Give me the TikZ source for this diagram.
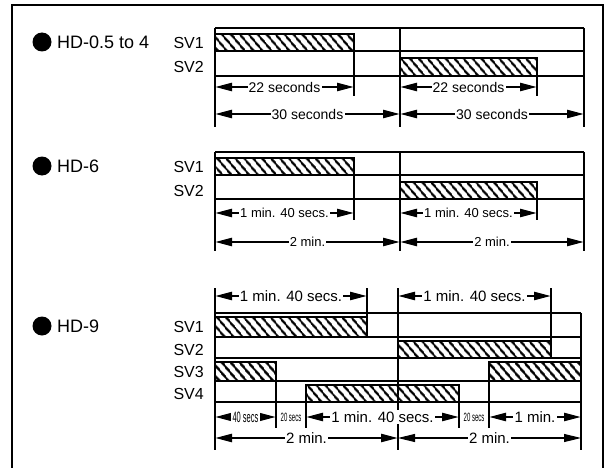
\documentclass[tikz,border=0pt]{standalone}
\usepackage{fontspec}
\setmainfont{Liberation Sans}
\usetikzlibrary{arrows.meta,patterns.meta}
\tikzset{
  frame/.style  ={line width=2pt},
  grid/.style   ={line width=1.4pt},
  hatch/.style  ={draw, line width=1.4pt,
                  pattern={Lines[angle=-50,distance=6.4pt,line width=2.5pt]}},
  dim/.style    ={{Triangle[length=17pt,width=8pt]}-{Triangle[length=17pt,width=8pt]},
                  line width=2.4pt},
  dimthin/.style={dim, line width=1.1pt},
  bullet/.style ={circle, fill, inner sep=0pt, minimum size=19pt},
  hd/.style     ={anchor=west, inner sep=0pt, font=\fontsize{18}{20}\selectfont},
  sv/.style     ={anchor=east, inner sep=0pt, font=\fontsize{16}{18}\selectfont},
  lblA/.style   ={fill=white, inner sep=1.2pt, font=\fontsize{14}{16}\selectfont},
  lblB/.style   ={fill=white, inner sep=1.2pt, font=\fontsize{13}{15}\selectfont},
  lblC/.style   ={fill=white, inner sep=1.2pt, font=\fontsize{15}{17}\selectfont},
  tiny/.style   ={inner sep=0pt, font=\fontsize{12}{14}\selectfont},
}
\newcommand{\narrow}[1]{\scalebox{0.5}[1]{#1}}

\begin{document}
\begin{tikzpicture}[x=1pt,y=-1pt]
\useasboundingbox (0,0) rectangle (610,468);
% outer frame, open at the bottom
\draw[frame] (12,468) -- (12,5) -- (603,5) -- (603,468);

% HD-0.5 to 4
\node[bullet] (bA) at (42,42) {};
\node[hd] (hdA) at (57,42) {HD-0.5 to 4};
\node[sv] (svA1) at (204,42.5) {SV1};
\node[sv] (svA2) at (204,67) {SV2};
\foreach \y in {28,51,76} \draw[grid] (215,\y) -- (584,\y);
\foreach \x in {215,400,584} \draw[grid] (\x,28) -- (\x,127);
\draw[hatch] (215,34) rectangle (354,51);
\draw[hatch] (400,58) rectangle (537,76);
\draw[grid] (354,51) -- (354,96);
\draw[grid] (537,76) -- (537,96);
\draw[dim] (215,87) -- (354,87) node[midway,lblA] (tA1) {22 seconds};
\draw[dim] (400,87) -- (537,87) node[midway,lblA] (tA2) {22 seconds};
\draw[dim] (215,114) -- (400,114) node[midway,lblA] (tA3) {30 seconds};
\draw[dim] (400,114) -- (584,114) node[midway,lblA] (tA4) {30 seconds};

% HD-6
\node[bullet] (bB) at (42,166) {};
\node[hd] (hdB) at (57,166) {HD-6};
\node[sv] (svB1) at (204,166.5) {SV1};
\node[sv] (svB2) at (204,190.5) {SV2};
\foreach \y in {152,175,199} \draw[grid] (215,\y) -- (584,\y);
\foreach \x in {215,400,584} \draw[grid] (\x,152) -- (\x,251);
\draw[hatch] (215,158) rectangle (354,175);
\draw[hatch] (400,182) rectangle (537,199);
\draw[grid] (354,175) -- (354,220);
\draw[grid] (537,199) -- (537,220);
\draw[dim] (215,213) -- (354,213) node[midway,lblB] (tB1) {1 min. 40 secs.};
\draw[dim] (400,213) -- (537,213) node[midway,lblB] (tB2) {1 min. 40 secs.};
\draw[dim] (215,242) -- (400,242) node[midway,lblB] (tB3) {2 min.};
\draw[dim] (400,242) -- (584,242) node[midway,lblB] (tB4) {2 min.};

% HD-9
\node[bullet] (bC) at (42,326) {};
\node[hd] (hdC) at (57,326) {HD-9};
\foreach \y/\n [count=\i] in {326.5/SV1,349.5/SV2,371.5/SV3,393.5/SV4}
  \node[sv] (svC\i) at (204,\y) {\n};
\foreach \y in {313,337,358,381,402} \draw[grid] (215,\y) -- (581,\y);
\draw[grid] (215,288) -- (215,450);
\draw[grid] (398,288) -- (398,450);
\draw[grid] (581,313) -- (581,450);
\draw[grid] (367,288) -- (367,337);
\draw[grid] (551,288) -- (551,358);
\foreach \x/\t in {276/362,306/385,459/385,489/362} \draw[grid] (\x,\t) -- (\x,428);
\draw[hatch] (215,317) rectangle (367,337);
\draw[hatch] (398,341) rectangle (551,358);
\draw[hatch] (215,362) rectangle (276,381);
\draw[hatch] (489,362) rectangle (581,381);
\draw[hatch] (306,385) rectangle (459,402);
\draw[dim] (215,296) -- (367,296) node[midway,lblC] (tC1) {1 min. 40 secs.};
\draw[dim] (398,296) -- (551,296) node[midway,lblC] (tC2) {1 min. 40 secs.};
\draw[dim] (215,417) -- (276,417) node[midway,lblC] (tC3) {\narrow{40 secs}};
\node[tiny] (tC4) at (291,417) {\narrow{20 secs}};
\draw[dim] (306,417) -- (459,417) node[midway,lblC] (tC5) {1 min. 40 secs.};
\node[tiny] (tC6) at (474,417) {\narrow{20 secs}};
\draw[dim] (489,417) -- (581,417) node[midway,lblC] (tC7) {1 min.};
\draw[dim] (215,438) -- (398,438) node[midway,lblC] (tC8) {2 min.};
\draw[dimthin] (398,438) -- (581,438) node[midway,lblC] (tC9) {2 min.};
\end{tikzpicture}
\end{document}
